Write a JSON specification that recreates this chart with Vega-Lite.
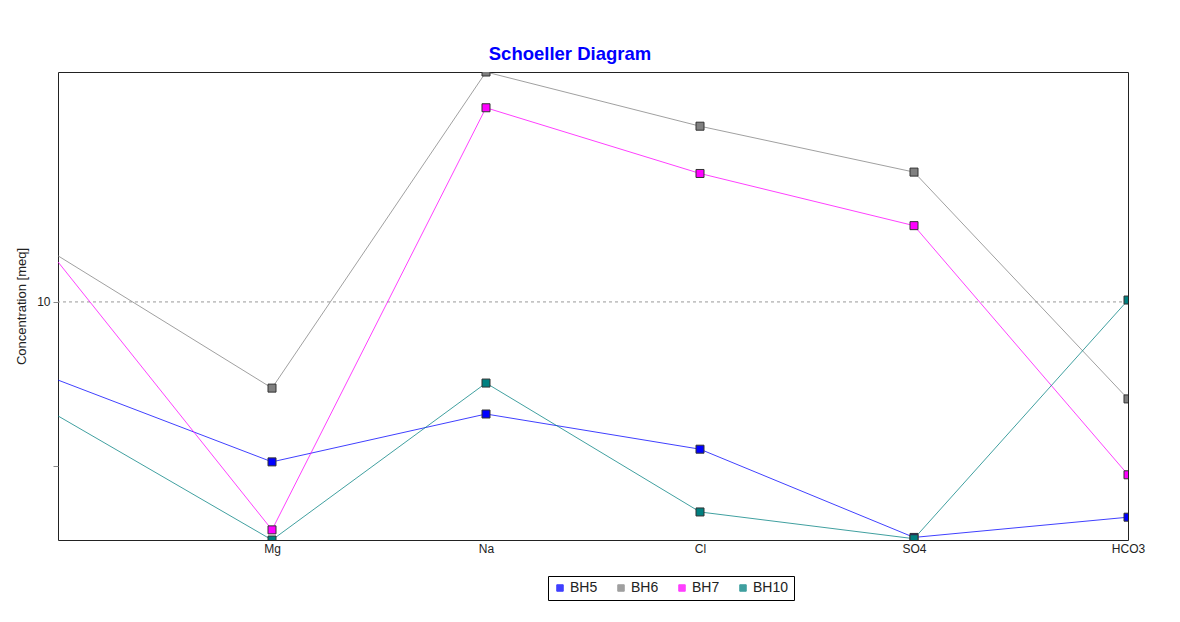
{
  "$schema": "https://vega.github.io/schema/vega-lite/v6.json",
  "width": 1070,
  "height": 468,
  "autosize": {"type": "none"},
  "padding": {"left": 58, "top": 72, "right": 52, "bottom": 82},
  "background": "white",
  "title": {
    "text": "Schoeller Diagram",
    "color": "#0000ff",
    "font": "Liberation Sans",
    "fontSize": 18.5,
    "fontWeight": "bold",
    "anchor": "middle",
    "offset": 9,
    "dx": -23
  },
  "config": {
    "view": {"stroke": "#222222", "strokeWidth": 1},
    "font": "Liberation Sans"
  },
  "data": {
    "values": [
      {"ion": "Ca", "well": "BH5", "meq": 7.19},
      {"ion": "Mg", "well": "BH5", "meq": 5.09},
      {"ion": "Na", "well": "BH5", "meq": 6.23},
      {"ion": "Cl", "well": "BH5", "meq": 5.37},
      {"ion": "SO4", "well": "BH5", "meq": 3.70},
      {"ion": "HCO3", "well": "BH5", "meq": 4.03},
      {"ion": "Ca", "well": "BH6", "meq": 12.15},
      {"ion": "Mg", "well": "BH6", "meq": 6.95},
      {"ion": "Na", "well": "BH6", "meq": 26.4},
      {"ion": "Cl", "well": "BH6", "meq": 21.0},
      {"ion": "SO4", "well": "BH6", "meq": 17.3},
      {"ion": "HCO3", "well": "BH6", "meq": 6.64},
      {"ion": "Ca", "well": "BH7", "meq": 11.84},
      {"ion": "Mg", "well": "BH7", "meq": 3.82},
      {"ion": "Na", "well": "BH7", "meq": 22.7},
      {"ion": "Cl", "well": "BH7", "meq": 17.2},
      {"ion": "SO4", "well": "BH7", "meq": 13.8},
      {"ion": "HCO3", "well": "BH7", "meq": 4.82},
      {"ion": "Ca", "well": "BH10", "meq": 6.18},
      {"ion": "Mg", "well": "BH10", "meq": 3.66},
      {"ion": "Na", "well": "BH10", "meq": 7.10},
      {"ion": "Cl", "well": "BH10", "meq": 4.12},
      {"ion": "SO4", "well": "BH10", "meq": 3.68},
      {"ion": "HCO3", "well": "BH10", "meq": 10.08}
    ]
  },
  "encoding": {
    "x": {
      "field": "ion",
      "type": "nominal",
      "sort": ["Ca", "Mg", "Na", "Cl", "SO4", "HCO3"],
      "scale": {"type": "point", "padding": 0},
      "axis": {
        "title": null,
        "labelAngle": 0,
        "ticks": false,
        "domain": false,
        "labelFontSize": 12,
        "labelColor": "#222222",
        "labelPadding": 3,
        "labelExpr": "datum.value == 'Ca' ? '' : datum.value"
      }
    },
    "y": {
      "field": "meq",
      "type": "quantitative",
      "scale": {"type": "log", "domain": [3.66, 26.4], "nice": false, "zero": false},
      "axis": {
        "title": "Concentration [meq]",
        "titleFontSize": 13,
        "titleFontWeight": "normal",
        "titleColor": "#222222",
        "titlePadding": 8,
        "values": [5, 10],
        "labelExpr": "datum.value == 10 ? '10' : ''",
        "labelFontSize": 12,
        "labelColor": "#222222",
        "tickColor": "#888888",
        "tickSize": 5,
        "labelPadding": 3,
        "domain": false,
        "grid": false
      }
    },
    "color": {
      "field": "well",
      "type": "nominal",
      "scale": {
        "domain": ["BH5", "BH6", "BH7", "BH10"],
        "range": ["#0000ff", "#808080", "#ff00ff", "#008080"]
      },
      "legend": {
        "title": null,
        "orient": "none",
        "legendX": 490,
        "legendY": 504,
        "direction": "horizontal",
        "symbolType": "square",
        "symbolSize": 42,
        "symbolStrokeColor": "#000000",
        "symbolStrokeWidth": 1,
        "labelFontSize": 14,
        "labelColor": "#222222",
        "columnPadding": 16,
        "labelOffset": 3,
        "padding": 5,
        "strokeColor": "#000000",
        "fillColor": "white"
      }
    }
  },
  "layer": [
    {
      "data": {"values": [{"v": 10}]},
      "mark": {"type": "rule", "color": "#999999", "strokeDash": [3, 3], "strokeWidth": 1},
      "encoding": {"y": {"field": "v", "type": "quantitative"}, "x": null, "color": null}
    },
    {
      "mark": {"type": "line", "strokeWidth": 1, "opacity": 0.75, "clip": true},
      "encoding": {"detail": {"field": "well"}}
    },
    {
      "transform": [{"filter": "datum.ion != 'Ca'"}],
      "mark": {"type": "point", "shape": "square", "filled": true, "size": 64, "opacity": 1, "stroke": "#333333", "strokeWidth": 1, "clip": true}
    }
  ]
}
